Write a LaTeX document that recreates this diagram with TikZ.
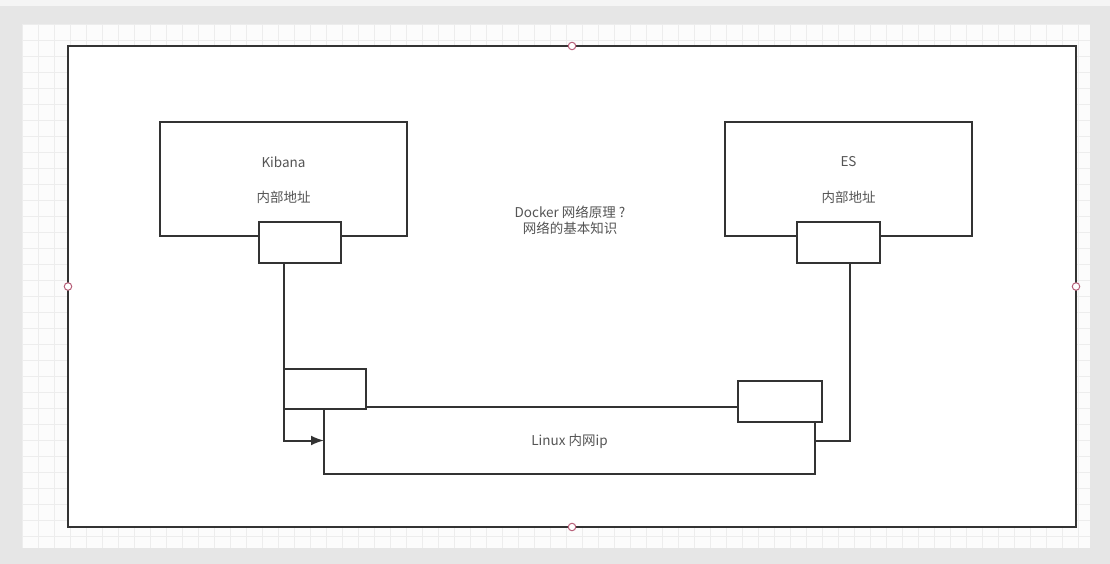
\documentclass[tikz,border=0pt]{standalone}
\usepackage{fontspec}
\setmainfont{Noto Sans CJK SC}
\usepackage{xcolor}
\usetikzlibrary{arrows.meta}
\definecolor{linegray}{HTML}{333333}
\definecolor{textgray}{HTML}{555555}
\definecolor{handlered}{HTML}{B8607A}
\definecolor{gridgray}{HTML}{EDEDED}
\definecolor{paneback}{HTML}{FCFCFC}
\definecolor{outerback}{HTML}{E6E6E6}

\begin{document}
\begin{tikzpicture}[x=1pt,y=-1pt,
    box/.style={draw=linegray,line width=2pt,fill=white,outer sep=0pt,inner sep=0pt},
    lbl/.style={text=textgray,font=\fontsize{13.5}{16}\selectfont,inner sep=0pt,align=center},
    handle/.style={circle,draw=handlered,line width=1pt,fill=white,minimum size=7.5pt,inner sep=0pt},
    wire/.style={draw=linegray,line width=2pt}]
    \useasboundingbox (0,0) rectangle (1110,564);

    % Canvas and grid
    \fill[outerback] (0,0) rectangle (1110,564);
    \fill[gray!8] (0,0) rectangle (1110,6);
    \fill[paneback] (22,24) rectangle (1090,548);
    \foreach \x in {22,38,...,1090} {
        \draw[gridgray,line width=0.8pt] (\x,24) -- (\x,548);
    }
    \foreach \y in {24,40,...,548} {
        \draw[gridgray,line width=0.8pt] (22,\y) -- (1090,\y);
    }

    % Outer frame
    \node[box,minimum width=1008pt,minimum height=481pt] (frame) at (572,286.5) {};

    % Containers
    \node[box,minimum width=247pt,minimum height=114pt] (kibana) at (283.5,179) {};
    \node[lbl] (kibananame) at (283.5,162) {Kibana};
    \node[lbl] (kibanaaddr) at (283.5,197) {内部地址};
    \node[box,minimum width=82pt,minimum height=41pt] (kport) at (300,242.5) {};

    \node[box,minimum width=247pt,minimum height=114pt] (es) at (848.5,179) {};
    \node[lbl] (esname) at (848.5,162) {ES};
    \node[lbl] (esaddr) at (848.5,197) {内部地址};
    \node[box,minimum width=83pt,minimum height=41pt] (esport) at (838.5,242.5) {};

    % Question in the middle
    \node[lbl] (question) at (570,220) {Docker 网络原理 ?\\网络的基本知识};

    % Host network
    \node[box,minimum width=491pt,minimum height=67pt] (linux) at (569.5,440.5) {};
    \node[lbl] (linuxname) at (569.5,441) {Linux 内网ip};
    \node[box,minimum width=82pt,minimum height=40pt] (lbox) at (325,389) {};
    \node[box,minimum width=84pt,minimum height=41pt] (rbox) at (780,401.5) {};

    % Links to the host
    \coordinate (esdrop) at (850,263);
    \draw[wire,-{Latex[length=13pt,width=10pt]}] (kport.south -| lbox.west) |- (linux.west);
    \draw[wire] (esdrop) |- (linux.east);

    % Frame handles
    \foreach \a in {north,west,east,south} {
        \node[handle] (h\a) at (frame.\a) {};
    }
\end{tikzpicture}
\end{document}
